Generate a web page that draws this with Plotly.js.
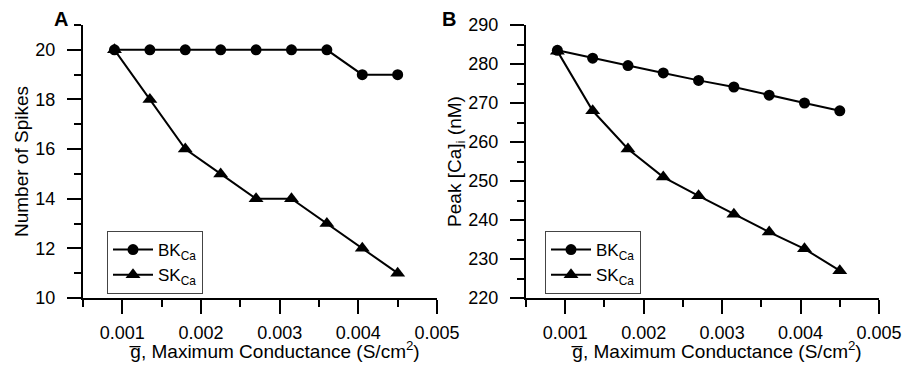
<!DOCTYPE html>
<html>
<head>
<meta charset="utf-8">
<script src="https://cdn.plot.ly/plotly-3.0.1.min.js"></script>
<style>html,body{margin:0;padding:0;background:#fff;}#chart{width:912px;height:366px;}</style>
</head>
<body>
<div id="chart"></div>
<script>
// Data
const gbar = [0.0009, 0.00135, 0.0018, 0.00225, 0.0027, 0.00315, 0.0036, 0.00405, 0.0045];
const spikesBK = [20, 20, 20, 20, 20, 20, 20, 19, 19];
const spikesSK = [20, 18, 16, 15, 14, 14, 13, 12, 11];
const caBK = [283.5, 281.5, 279.6, 277.7, 275.8, 274.1, 272.0, 270.0, 268.0];
const caSK = [283.3, 268.0, 258.2, 251.0, 246.2, 241.5, 236.9, 232.6, 227.0];
const seriesNames = ['BK<sub>Ca</sub>', 'SK<sub>Ca</sub>'];
const xTickVals = [0.001, 0.002, 0.003, 0.004, 0.005];
const xTickText = ['0.001', '0.002', '0.003', '0.004', '0.005'];
const xTitle = 'g\u0305, Maximum Conductance (S/cm<sup>2</sup>)';
const yTitleA = 'Number of Spikes';
const yTitleB = 'Peak [Ca]<sub>i</sub> (nM)';

const W = 912, H = 366;
const FONT = 'Liberation Sans, Arial, sans-serif';
const px = v => v / W;
const py = v => 1 - v / H;

function trace(x, y, name, sym, xa, ya, leg) {
  return {
    x: x, y: y, name: name, type: 'scatter', mode: 'lines+markers',
    xaxis: xa, yaxis: ya, legend: leg, showlegend: true,
    line: {color: '#000', width: 2},
    marker: {symbol: sym, size: sym === 'circle' ? 11 : 13, color: '#000'}
  };
}

const data = [
  trace(gbar, spikesBK, seriesNames[0], 'circle', 'x', 'y', 'legend'),
  trace(gbar, spikesSK, seriesNames[1], 'triangle-up', 'x', 'y', 'legend'),
  trace(gbar, caBK, seriesNames[0], 'circle', 'x2', 'y2', 'legend2'),
  trace(gbar, caSK, seriesNames[1], 'triangle-up', 'x2', 'y2', 'legend2')
];

function xaxis(dom, anchor) {
  return {
    domain: dom, anchor: anchor, range: [0.0005, 0.005],
    tickvals: xTickVals, ticktext: xTickText,
    showline: true, linecolor: '#000', linewidth: 2,
    ticks: 'outside', ticklen: 14, tickwidth: 2, tickcolor: '#000',
    ticklabelstandoff: 3,
    minor: {dtick: 0.0005, tick0: 0, ticks: 'outside', ticklen: 7, tickwidth: 2, tickcolor: '#000', showgrid: false},
    showgrid: false, zeroline: false,
    tickfont: {family: FONT, size: 18, color: '#000'}
  };
}
function yaxis(dom, anchor, range, dtick, minor, title) {
  return {
    domain: dom, anchor: anchor, range: range, dtick: dtick, tick0: range[0],
    showline: true, linecolor: '#000', linewidth: 2,
    ticks: 'outside', ticklen: 14, tickwidth: 2, tickcolor: '#000',
    ticklabelstandoff: 8,
    minor: {dtick: minor, ticks: 'outside', ticklen: 7, tickwidth: 2, tickcolor: '#000', showgrid: false},
    showgrid: false, zeroline: false,
    tickfont: {family: FONT, size: 18, color: '#000'},
    title: {text: title, font: {family: FONT, size: 19, color: '#000'}, standoff: 2}
  };
}

const yDom = [1 - 298 / H, 1 - 25 / H];
const legendBase = {
  xanchor: 'left', yanchor: 'top', bgcolor: '#fff', bordercolor: '#444', borderwidth: 1,
  font: {family: FONT, size: 17, color: '#000'}, tracegroupgap: 0, itemwidth: 40
};

function label(text, x, y, size) {
  return {text: text, x: px(x), y: py(y), xref: 'paper', yref: 'paper', xanchor: 'center', yanchor: 'middle',
          showarrow: false, font: {family: FONT, size: size, color: '#000'}};
}

const layout = {
  width: W, height: H,
  margin: {l: 0, r: 0, t: 0, b: 0},
  paper_bgcolor: '#fff', plot_bgcolor: '#fff',
  xaxis: xaxis([px(83), px(437)], 'y'),
  yaxis: yaxis(yDom, 'x', [10, 21], 2, 1, yTitleA),
  xaxis2: xaxis([px(526), px(879)], 'y2'),
  yaxis2: yaxis(yDom, 'x2', [220, 290], 10, 5, yTitleB),
  legend: Object.assign({x: px(107), y: py(231)}, legendBase),
  legend2: Object.assign({x: px(545), y: py(231)}, legendBase),
  annotations: [
    label('<b>A</b>', 60.5, 19, 20),
    label('<b>B</b>', 449, 19, 20),
    label(xTitle, 274, 350, 19),
    label(xTitle, 716, 350, 19)
  ],
  showlegend: true
};

Plotly.newPlot('chart', data, layout, {displayModeBar: false, staticPlot: true});
</script>
</body>
</html>
